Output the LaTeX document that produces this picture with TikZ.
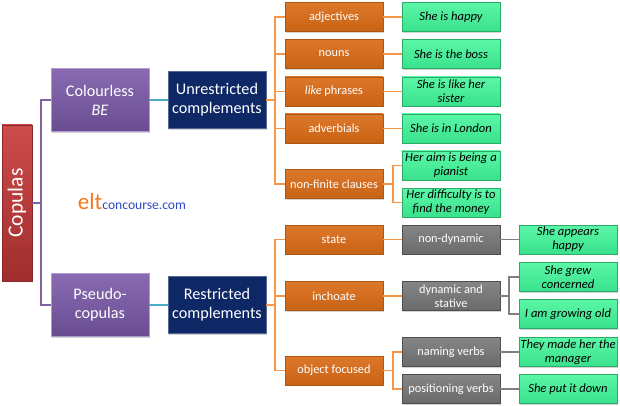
\documentclass[tikz,border=0pt]{standalone}
\usepackage{fontspec}
\setmainfont{Carlito}
\usetikzlibrary{shadows}

\definecolor{copred}{RGB}{200,56,56}
\definecolor{boxpurple}{RGB}{124,90,170}
\definecolor{boxnavy}{RGB}{14,40,102}
\definecolor{boxorange}{RGB}{218,108,24}
\definecolor{boxgreen}{RGB}{62,245,152}
\definecolor{boxgrey}{RGB}{112,112,112}
\definecolor{linepurple}{RGB}{128,100,162}
\definecolor{linecyan}{RGB}{75,172,198}
\definecolor{lineorange}{RGB}{247,150,70}
\definecolor{linegrey}{RGB}{127,127,127}
\definecolor{eltorange}{RGB}{242,120,32}
\definecolor{eltblue}{RGB}{48,72,196}

\begin{document}
\begin{tikzpicture}[x=1pt,y=1pt,yscale=-1,xscale=1,
  every node/.style={inner sep=1pt,align=center},
  boxbase/.style={rectangle,line width=0.6pt,drop shadow={shadow xshift=1pt,shadow yshift=-1.2pt,opacity=0.35}},
  bigbox/.style={boxbase,minimum width=98pt,text=white,font=\fontsize{16.2}{19}\selectfont},
  copbox/.style={boxbase,minimum width=30pt,minimum height=156pt,text=white,font=\fontsize{21.5}{24}\selectfont,top color=copred!90!white,bottom color=copred!80!black,draw=copred!70!black},
  purplebox/.style={bigbox,minimum height=63pt,top color=boxpurple!90!white,bottom color=boxpurple!85!black,draw=boxpurple!60!white},
  navybox/.style={bigbox,minimum height=57pt,fill=boxnavy,draw=boxnavy!70!white},
  smallbox/.style={boxbase,minimum width=98pt,minimum height=29pt,font=\fontsize{12.3}{14.2}\selectfont},
  orangebox/.style={smallbox,text=white,top color=boxorange!92!white,bottom color=boxorange!92!black,draw=boxorange!80!black},
  greenbox/.style={smallbox,text=black,font=\fontsize{12.6}{14.2}\selectfont\itshape,top color=boxgreen!85!white,bottom color=boxgreen!92!black,draw=boxgreen!70!black},
  greybox/.style={smallbox,text=white,top color=boxgrey!85!white,bottom color=boxgrey!95!black,draw=boxgrey!70!black},
  link/.style={line width=1.6pt}
]
\useasboundingbox (0,0) rectangle (620,406);

% Main box
\node [copbox] (cop) at (17,203) {\rotatebox{90}{Copulas}};

% Second level
\node [purplebox] (clb) at (100,100) {Colourless\\\textit{BE}};
\node [purplebox] (pcp) at (100,305) {Pseudo-\\copulas};
\node [navybox] (unr) at (217,100) {Unrestricted\\complements};
\node [navybox] (res) at (217,305) {Restricted\\complements};

% Unrestricted complements
\node [orangebox] (adj) at (334,17) {adjectives};
\node [orangebox] (nou) at (334,54) {nouns};
\node [orangebox] (lik) at (334,91.5) {\textit{like} phrases};
\node [orangebox] (adv) at (334,128.5) {adverbials};
\node [orangebox] (nfc) at (334,184) {non-finite clauses};
\node [greenbox] (hap) at (451,17) {She is happy};
\node [greenbox] (bos) at (451,54) {She is the boss};
\node [greenbox] (sis) at (451,91.5) {She is like her\\sister};
\node [greenbox] (lon) at (451,128.5) {She is in London};
\node [greenbox] (aim) at (451,165.5) {Her aim is being a\\pianist};
\node [greenbox] (dif) at (451,202.5) {Her difficulty is to\\find the money};

% Restricted complements
\node [orangebox] (sta) at (334,239.5) {state};
\node [orangebox] (inc) at (334,296) {inchoate};
\node [orangebox] (obj) at (334,370.5) {object focused};
\node [greybox] (ndy) at (451,239.5) {non-dynamic};
\node [greybox] (dys) at (451,296) {dynamic and\\stative};
\node [greybox] (nam) at (451,352) {naming verbs};
\node [greybox] (pos) at (451,389) {positioning verbs};
\node [greenbox] (app) at (568,239.5) {She appears\\happy};
\node [greenbox] (gre) at (568,277) {She grew\\concerned};
\node [greenbox] (old) at (568,314) {I am growing old};
\node [greenbox] (mad) at (568,352) {They made her the\\manager};
\node [greenbox] (put) at (568,389) {She put it down};

% Text Node
\node (logo) at (132,202) {{\color{eltorange}\fontsize{23}{23}\selectfont elt}{\color{eltblue}\fontsize{13.6}{15}\selectfont concourse.com}};

% branch points
\coordinate (pv) at (41,203);
\coordinate (ov1) at (275,100);
\coordinate (ov2) at (275,305);
\coordinate (nv) at (393,184);
\coordinate (ob) at (393,370.5);
\coordinate (gv) at (509,296);

%Straight Lines
\begin{scope}[on background layer/.try]
\draw [link,linepurple] (cop.east) -- (pv);
\draw [link,linepurple] (clb.west) -| (pv) |- (pcp.west);
\draw [link,linecyan] (clb.east) -- (unr.west);
\draw [link,linecyan] (pcp.east) -- (res.west);
\draw [link,lineorange] (unr.east) -- (ov1);
\foreach \n in {adj,nou,lik,adv,nfc} \draw [link,lineorange] (ov1) |- (\n.west);
\draw [link,lineorange] (res.east) -- (ov2);
\foreach \n in {sta,inc,obj} \draw [link,lineorange] (ov2) |- (\n.west);
\draw [link,lineorange] (adj.east) -- (hap.west);
\draw [link,lineorange] (nou.east) -- (bos.west);
\draw [link,lineorange] (lik.east) -- (sis.west);
\draw [link,lineorange] (adv.east) -- (lon.west);
\draw [link,lineorange] (nfc.east) -- (nv) |- (aim.west);
\draw [link,lineorange] (nv) |- (dif.west);
\draw [link,lineorange] (sta.east) -- (ndy.west);
\draw [link,lineorange] (inc.east) -- (dys.west);
\draw [link,lineorange] (obj.east) -- (ob) |- (nam.west);
\draw [link,lineorange] (ob) |- (pos.west);
\draw [link,linegrey] (ndy.east) -- (app.west);
\draw [link,linegrey] (dys.east) -- (gv) |- (gre.west);
\draw [link,linegrey] (gv) |- (old.west);
\draw [link,linegrey] (nam.east) -- (mad.west);
\draw [link,linegrey] (pos.east) -- (put.west);
\end{scope}

\end{tikzpicture}
\end{document}
